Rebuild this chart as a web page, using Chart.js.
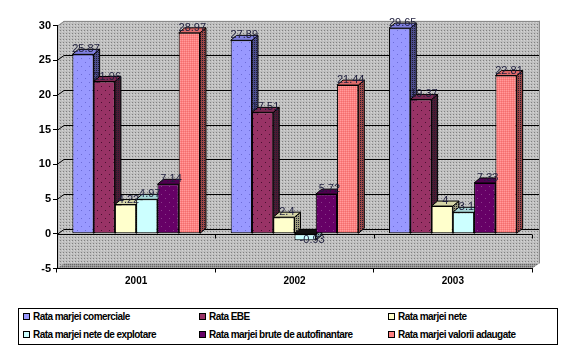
<!DOCTYPE html>
<html><head><meta charset="utf-8">
<script src="https://cdn.jsdelivr.net/npm/chart.js@4/dist/chart.umd.min.js"></script>
<style>
html,body{margin:0;padding:0;background:#fff;}
#wrap{position:relative;width:576px;height:355px;overflow:hidden;}
#c{position:absolute;left:0;top:0;}
#legend{position:absolute;left:18px;top:308px;width:538px;height:35px;border:1px solid #000;background:#fff;font-family:"Liberation Sans",Arial,sans-serif;font-weight:bold;font-size:10px;color:#000;letter-spacing:-0.55px;}
.item{position:absolute;white-space:nowrap;line-height:12px;height:12px;}
.sw{display:inline-block;width:5px;height:5px;border:1px solid #000;vertical-align:0px;margin-right:3px;}
</style></head>
<body>
<div id="wrap">
<canvas id="c" width="576" height="355"></canvas>
<div id="legend"></div>
</div>
<script>
// ---- data ----
const categories = ['2001', '2002', '2003'];
const seriesNames = ['Rata marjei comerciale', 'Rata EBE', 'Rata marjei nete',
  'Rata marjei nete de explotare', 'Rata marjei brute de autofinantare', 'Rata marjei valorii adaugate'];
const rataComerciale = [25.87, 27.89, 29.65];
const rataEBE = [21.96, 17.51, 19.37];
const rataNete = [4.22, 2.4, 4];
const rataNeteExploatare = [4.97, -0.93, 3.1];
const rataBruteAutofinantare = [7.14, 5.72, 7.33];
const rataValoriiAdaugate = [28.97, 21.44, 22.81];
const yMin = -5, yMax = 30, yStep = 5;

const seriesData = [rataComerciale, rataEBE, rataNete, rataNeteExploatare, rataBruteAutofinantare, rataValoriiAdaugate];

// ---- styles ----
const frontCol = ['#9999FF', '#993366', '#FFFFCC', '#CCFFFF', '#660066', '#FF8080'];
const topCol = ['#8080E0', '#7A2952', '#D6D6A8', '#A8D6D6', '#500050', '#E06A6A'];
const sideCol = ['#4E4E8E', '#4D1A33', '#9E9E7E', '#7E9E9E', '#330033', '#9E4848'];

function pat(size, base, dots) {
  const c = document.createElement('canvas'); c.width = size; c.height = size;
  const g = c.getContext('2d'); g.fillStyle = base; g.fillRect(0, 0, size, size);
  dots.forEach(d => { g.fillStyle = d[2]; g.fillRect(d[0], d[1], 1, 1); });
  return g.createPattern(c, 'repeat');
}
const ctx = document.getElementById('c').getContext('2d');
const wallPat = pat(3, '#C0C0C0', [[0, 0, '#808080'], [2, 1, '#D4D4D4']]);
const floorPat = pat(2, '#969696', [[0, 0, '#666666'], [1, 1, '#ABABAB']]);
const frontFill = [
  pat(8, '#9999FF', [[1, 2, '#6C6CD8'], [5, 6, '#6C6CD8']]),
  pat(8, '#993366', [[1, 2, '#4A1030'], [5, 6, '#4A1030']]),
  '#FFFFCC', '#CCFFFF',
  pat(8, '#660066', [[1, 2, '#8A3A8A'], [5, 6, '#8A3A8A']]),
  pat(2, '#FF8080', [[0, 0, '#FF9C9C'], [1, 1, '#F07070']])
];
const sideFill = sideCol.map(c => pat(2, c, [[0, 0, '#202030']]));

const W_DX = 7, W_DY = -5;   // wall depth
const B_DX = 6, B_DY = -5;   // bar depth

const threeD = {
  id: 'threeD',
  beforeDraw(chart) {
    const g = chart.ctx, a = chart.chartArea, ys = chart.scales.y;
    const L = a.left, R = a.right, T = ys.getPixelForValue(yMax), B = ys.getPixelForValue(yMin), Z = ys.getPixelForValue(0);
    g.save();
    g.fillStyle = wallPat;
    g.beginPath();
    g.moveTo(L, T); g.lineTo(L + W_DX, T + W_DY); g.lineTo(R + W_DX, T + W_DY);
    g.lineTo(R + W_DX, B + W_DY); g.lineTo(R, B); g.lineTo(L, B); g.closePath(); g.fill();
    g.lineWidth = 1;
    for (let v = yMin + yStep; v <= yMax; v += yStep) {
      const y = Math.round(ys.getPixelForValue(v)) + 0.5;
      g.strokeStyle = v === yMax ? '#8A8A8A' : '#000';
      g.beginPath(); g.moveTo(L, y); g.lineTo(L + W_DX, y + W_DY); g.lineTo(R + W_DX, y + W_DY); g.stroke();
    }
    g.strokeStyle = '#8A8A8A';
    g.beginPath(); g.moveTo(R + W_DX + 0.5, T + W_DY); g.lineTo(R + W_DX + 0.5, B + W_DY); g.stroke();
    g.fillStyle = floorPat;
    g.beginPath(); g.moveTo(L, B); g.lineTo(L + W_DX, B + W_DY); g.lineTo(R + W_DX, B + W_DY); g.lineTo(R, B); g.closePath(); g.fill();
    const z = Math.round(Z) + 0.5;
    g.strokeStyle = '#000';
    g.beginPath(); g.moveTo(L, z); g.lineTo(R, z); g.stroke();
    const n = categories.length;
    for (let i = 0; i <= n; i++) {
      const x = Math.round(L + (R - L) * i / n) + 0.5;
      g.beginPath(); g.moveTo(x, z); g.lineTo(x, z + 4); g.stroke();
    }
    g.restore();
  },
  beforeDatasetsDraw(chart) {
    const g = chart.ctx;
    g.save(); g.lineWidth = 1; g.strokeStyle = '#000';
    for (let i = 0; i < categories.length; i++) {
      for (let d = 0; d < seriesData.length; d++) {
        const bar = chart.getDatasetMeta(d).data[i];
        const p = bar.getProps(['x', 'y', 'base', 'width'], true);
        const l = p.x - p.width / 2, r = p.x + p.width / 2;
        const top = Math.min(p.y, p.base), bot = Math.max(p.y, p.base);
        const neg = seriesData[d][i] < 0;
        g.fillStyle = sideFill[d];
        g.beginPath(); g.moveTo(r, top); g.lineTo(r + B_DX, top + B_DY); g.lineTo(r + B_DX, bot + B_DY); g.lineTo(r, bot); g.closePath();
        g.fill(); g.stroke();
        g.fillStyle = neg ? '#111' : topCol[d];
        g.beginPath(); g.moveTo(l, top); g.lineTo(l + B_DX, top + B_DY); g.lineTo(r + B_DX, top + B_DY); g.lineTo(r, top); g.closePath();
        g.fill(); g.stroke();
      }
    }
    g.restore();
  },
  afterDatasetsDraw(chart) {
    const g = chart.ctx;
    g.save();
    g.font = '11px "Liberation Sans", Arial, sans-serif';
    g.textAlign = 'center'; g.textBaseline = 'middle'; g.fillStyle = '#1E1E3C';
    for (let d = 0; d < seriesData.length; d++) {
      chart.getDatasetMeta(d).data.forEach((bar, i) => {
        const v = seriesData[d][i];
        const p = bar.getProps(['x', 'y', 'base', 'width'], true);
        if (v >= 0) g.fillText(String(v), p.x + 3, p.y - 5);
        else g.fillText(String(v), p.x + 7, p.y);
      });
    }
    g.restore();
  }
};

Chart.defaults.font.family = '"Liberation Sans", Arial, sans-serif';
new Chart(ctx, {
  type: 'bar',
  data: {
    labels: categories,
    datasets: seriesData.map((d, i) => ({
      label: seriesNames[i], data: d, backgroundColor: frontFill[i],
      borderColor: '#000', borderWidth: 1, borderSkipped: false
    }))
  },
  options: {
    responsive: false, animation: false, devicePixelRatio: 1,
    layout: { padding: { left: 0, top: 25.7, right: 44, bottom: 66.5 } },
    plugins: { legend: { display: false }, tooltip: { enabled: false } },
    datasets: { bar: { categoryPercentage: 0.806, barPercentage: 1, clip: false } },
    scales: {
      x: {
        grid: { display: true, drawOnChartArea: false, tickLength: 4, color: '#000', offset: true },
        border: { display: true, color: '#000' },
        ticks: { color: '#000', font: { weight: 'bold', size: 10 }, padding: 3 },
        afterFit(s) { s.height = 20; }
      },
      y: {
        min: yMin, max: yMax,
        ticks: { stepSize: yStep, color: '#000', font: { weight: 'bold', size: 11 }, padding: 2 },
        grid: { drawOnChartArea: false, tickLength: 4, color: '#000' },
        border: { display: true, color: '#000' },
        afterFit(s) { s.width = 57; }
      }
    }
  },
  plugins: [threeD]
});

// ---- legend ----
const legendPos = [[4, 2], [180, 2], [369, 2], [4, 20], [180, 20], [369, 20]];
const lg = document.getElementById('legend');
seriesNames.forEach((n, i) => {
  const it = document.createElement('div'); it.className = 'item';
  it.style.left = legendPos[i][0] + 'px'; it.style.top = legendPos[i][1] + 'px';
  const sw = document.createElement('span'); sw.className = 'sw'; sw.style.background = frontCol[i];
  it.appendChild(sw); it.appendChild(document.createTextNode(n));
  lg.appendChild(it);
});
</script>
</body></html>
